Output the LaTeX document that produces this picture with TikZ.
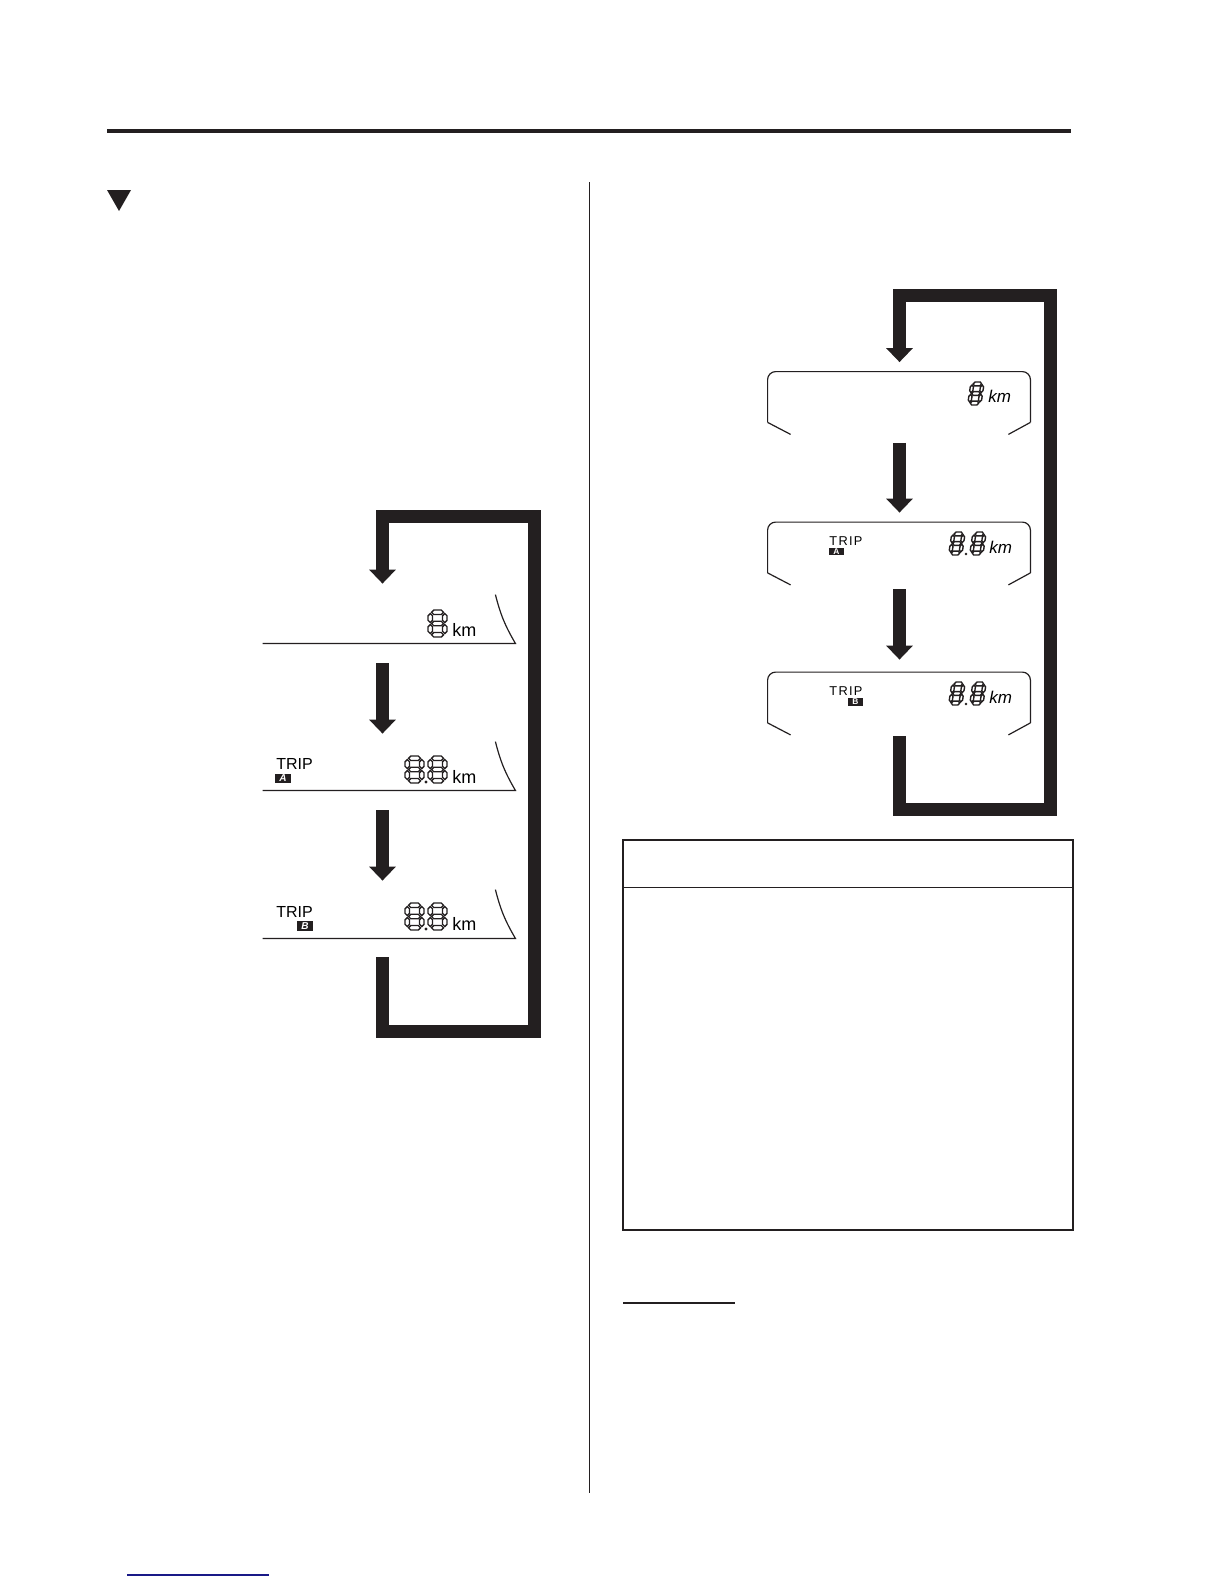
\documentclass[tikz,border=0pt]{standalone}
\usepackage{fontspec}
\setsansfont{Liberation Sans}
\newfontfamily\tripfont[LetterSpace=10]{Liberation Sans}
\usetikzlibrary{arrows.meta}
\definecolor{ink}{RGB}{35,31,32}
\definecolor{lnk}{RGB}{25,25,135}

\begin{document}
\begin{tikzpicture}[x=0.5pt,y=-0.5pt,font=\sffamily,
  fat/.style={ink,line width=6.5pt,-{Triangle[length=7pt,width=13pt]}},
  lcd/.style={draw=none,minimum width=126pt,minimum height=24pt,inner sep=0pt},
  panel/.style={draw=none,minimum width=131pt,minimum height=31pt,inner sep=0pt},
  rim/.style={ink,line width=.6pt},
  seg/.style={draw=ink,line width=.7pt},
  trip/.style={font=\fontsize{8}{8}\selectfont\sffamily,inner sep=0pt,anchor=base west},
  rtrip/.style={font=\fontsize{6.4}{6.4}\tripfont,inner sep=0pt,anchor=base west},
  km/.style={font=\fontsize{9}{9}\selectfont\sffamily,inner sep=0pt,anchor=base west},
  rkm/.style={font=\fontsize{8.5}{8.5}\selectfont\sffamily\itshape,inner sep=0pt,anchor=base west},
  tag/.style={fill=ink,text=white,inner sep=0pt,minimum width=8pt,minimum height=4.6pt,font=\fontsize{5}{5}\selectfont\sffamily\bfseries\itshape},
  rtag/.style={tag,minimum width=7.5pt,minimum height=3.8pt,font=\fontsize{4.2}{4.2}\selectfont\sffamily\bfseries},
  rlcd/.style={xslant=.15,xscale=.7,yscale=.85},
  segd/.pic={
    \foreach \cy in {2.25,13.5,24.75}
      \draw[seg] (3.5,\cy) -- ++(2.25,-2.25) -- ++(7.5,0) -- ++(2.25,2.25) -- ++(-2.25,2.25) -- ++(-7.5,0) -- cycle;
    \foreach \cx in {2.25,16.75} \foreach \cy in {3.5,14.5}
      \draw[seg] (\cx,\cy) -- ++(2.25,2.25) -- ++(0,4.5) -- ++(-2.25,2.25) -- ++(-2.25,-2.25) -- ++(0,-4.5) -- cycle;
  }]
  \path[use as bounding box,fill=white] (0,0) rectangle (1224,1584);
  % page rules
  \fill[ink] (107,129) rectangle (1071,133);
  \fill[ink] (107,190) -- (131,190) -- (119,211) -- cycle;
  \draw[ink,line width=.5pt] (589,182) -- (589,1493);
  % left column: flat readouts
  \node[lcd] (L1) at (389,619) {};
  \node[lcd] (L2) at (389,766) {};
  \node[lcd] (L3) at (389,914) {};
  \draw[rim] ([shift={(-20,0)}]L1.north east) to[bend right=8] (L1.south east) -- (L1.south west);
  \draw[rim] ([shift={(-20,0)}]L2.north east) to[bend right=8] (L2.south east) -- (L2.south west);
  \draw[rim] ([shift={(-20,0)}]L3.north east) to[bend right=8] (L3.south east) -- (L3.south west);
  \pic at (428,610) {segd};
  \node[km] (k1) at (452,636) {km};
  \node[trip] (t2) at (276,769) {TRIP};
  \node[tag] (a2) at (283,778.5) {A};
  \pic at (405,756) {segd}; \pic at (428,756) {segd};
  \fill[ink] (426,782) circle (.8pt);
  \node[km] (k2) at (452,783) {km};
  \node[trip] (t3) at (276,917) {TRIP};
  \node[tag] (b3) at (305,926) {B};
  \pic at (405,903) {segd}; \pic at (428,903) {segd};
  \fill[ink] (426,929) circle (.8pt);
  \node[km] (k3) at (452,930) {km};
  \draw[fat] ([shift={(-6.5,20)}]L1.south) -- ([shift={(-6.5,-8)}]L2.north);
  \draw[fat] ([shift={(-6.5,20)}]L2.south) -- ([shift={(-6.5,-9)}]L3.north);
  \draw[fat] ([shift={(-6.5,19)}]L3.south) |- (534.5,1031) |- (382.5,516.5) -- ([shift={(-6.5,-11)}]L1.north);
  % right column: framed readouts
  \node[panel] (R1) at (899,403) {};
  \node[panel] (R2) at (899,553.5) {};
  \node[panel] (R3) at (899,703.5) {};
  \draw[rim,rounded corners=4pt] ([shift={(0,-12)}]R1.south west) |- (R1.north) -| ([shift={(0,-12)}]R1.south east);
  \draw[rim] ([shift={(23,0)}]R1.south west) -- ([shift={(0,-12)}]R1.south west) ([shift={(0,-12)}]R1.south east) -- ([shift={(-22,0)}]R1.south east);
  \draw[rim,rounded corners=4pt] ([shift={(0,-12)}]R2.south west) |- (R2.north) -| ([shift={(0,-12)}]R2.south east);
  \draw[rim] ([shift={(23,0)}]R2.south west) -- ([shift={(0,-12)}]R2.south west) ([shift={(0,-12)}]R2.south east) -- ([shift={(-22,0)}]R2.south east);
  \draw[rim,rounded corners=4pt] ([shift={(0,-12)}]R3.south west) |- (R3.north) -| ([shift={(0,-12)}]R3.south east);
  \draw[rim] ([shift={(23,0)}]R3.south west) -- ([shift={(0,-12)}]R3.south west) ([shift={(0,-12)}]R3.south east) -- ([shift={(-22,0)}]R3.south east);
  \pic[rlcd] at (971,382) {segd};
  \node[rkm] (k4) at (988,402) {km};
  \node[rtrip] (t5) at (829,545) {TRIP};
  \node[rtag] (a5) at (836.5,551.5) {A};
  \pic[rlcd] at (952,532) {segd}; \pic[rlcd] at (973,532) {segd};
  \fill[ink] (966,554) circle (.7pt);
  \node[rkm] (k5) at (989,553) {km};
  \node[rtrip] (t6) at (829,695) {TRIP};
  \node[rtag] (b6) at (855.5,702) {B};
  \pic[rlcd] at (952,682) {segd}; \pic[rlcd] at (973,682) {segd};
  \fill[ink] (966,704) circle (.7pt);
  \node[rkm] (k6) at (989,703) {km};
  \draw[fat] ([shift={(0.5,8.5)}]R1.south) -- ([shift={(0.5,-9.5)}]R2.north);
  \draw[fat] ([shift={(0.5,4.5)}]R2.south) -- ([shift={(0.5,-12.5)}]R3.north);
  \draw[fat] ([shift={(0.5,1.5)}]R3.south) |- (1050.5,809.5) |- (899.5,295.5) -- ([shift={(0.5,-9.5)}]R1.north);
  % empty table and rules below
  \node[draw=ink,line width=.75pt,minimum width=225pt,minimum height=195pt,inner sep=0pt] (tbl) at (848,1035) {};
  \draw[ink,line width=.75pt] ([shift={(0,48)}]tbl.north west) -- ([shift={(0,48)}]tbl.north east);
  \draw[ink,line width=1pt] (623,1303) -- (735,1303);
  \draw[lnk,line width=.6pt] (127,1575) -- (269,1575);
\end{tikzpicture}
\end{document}
